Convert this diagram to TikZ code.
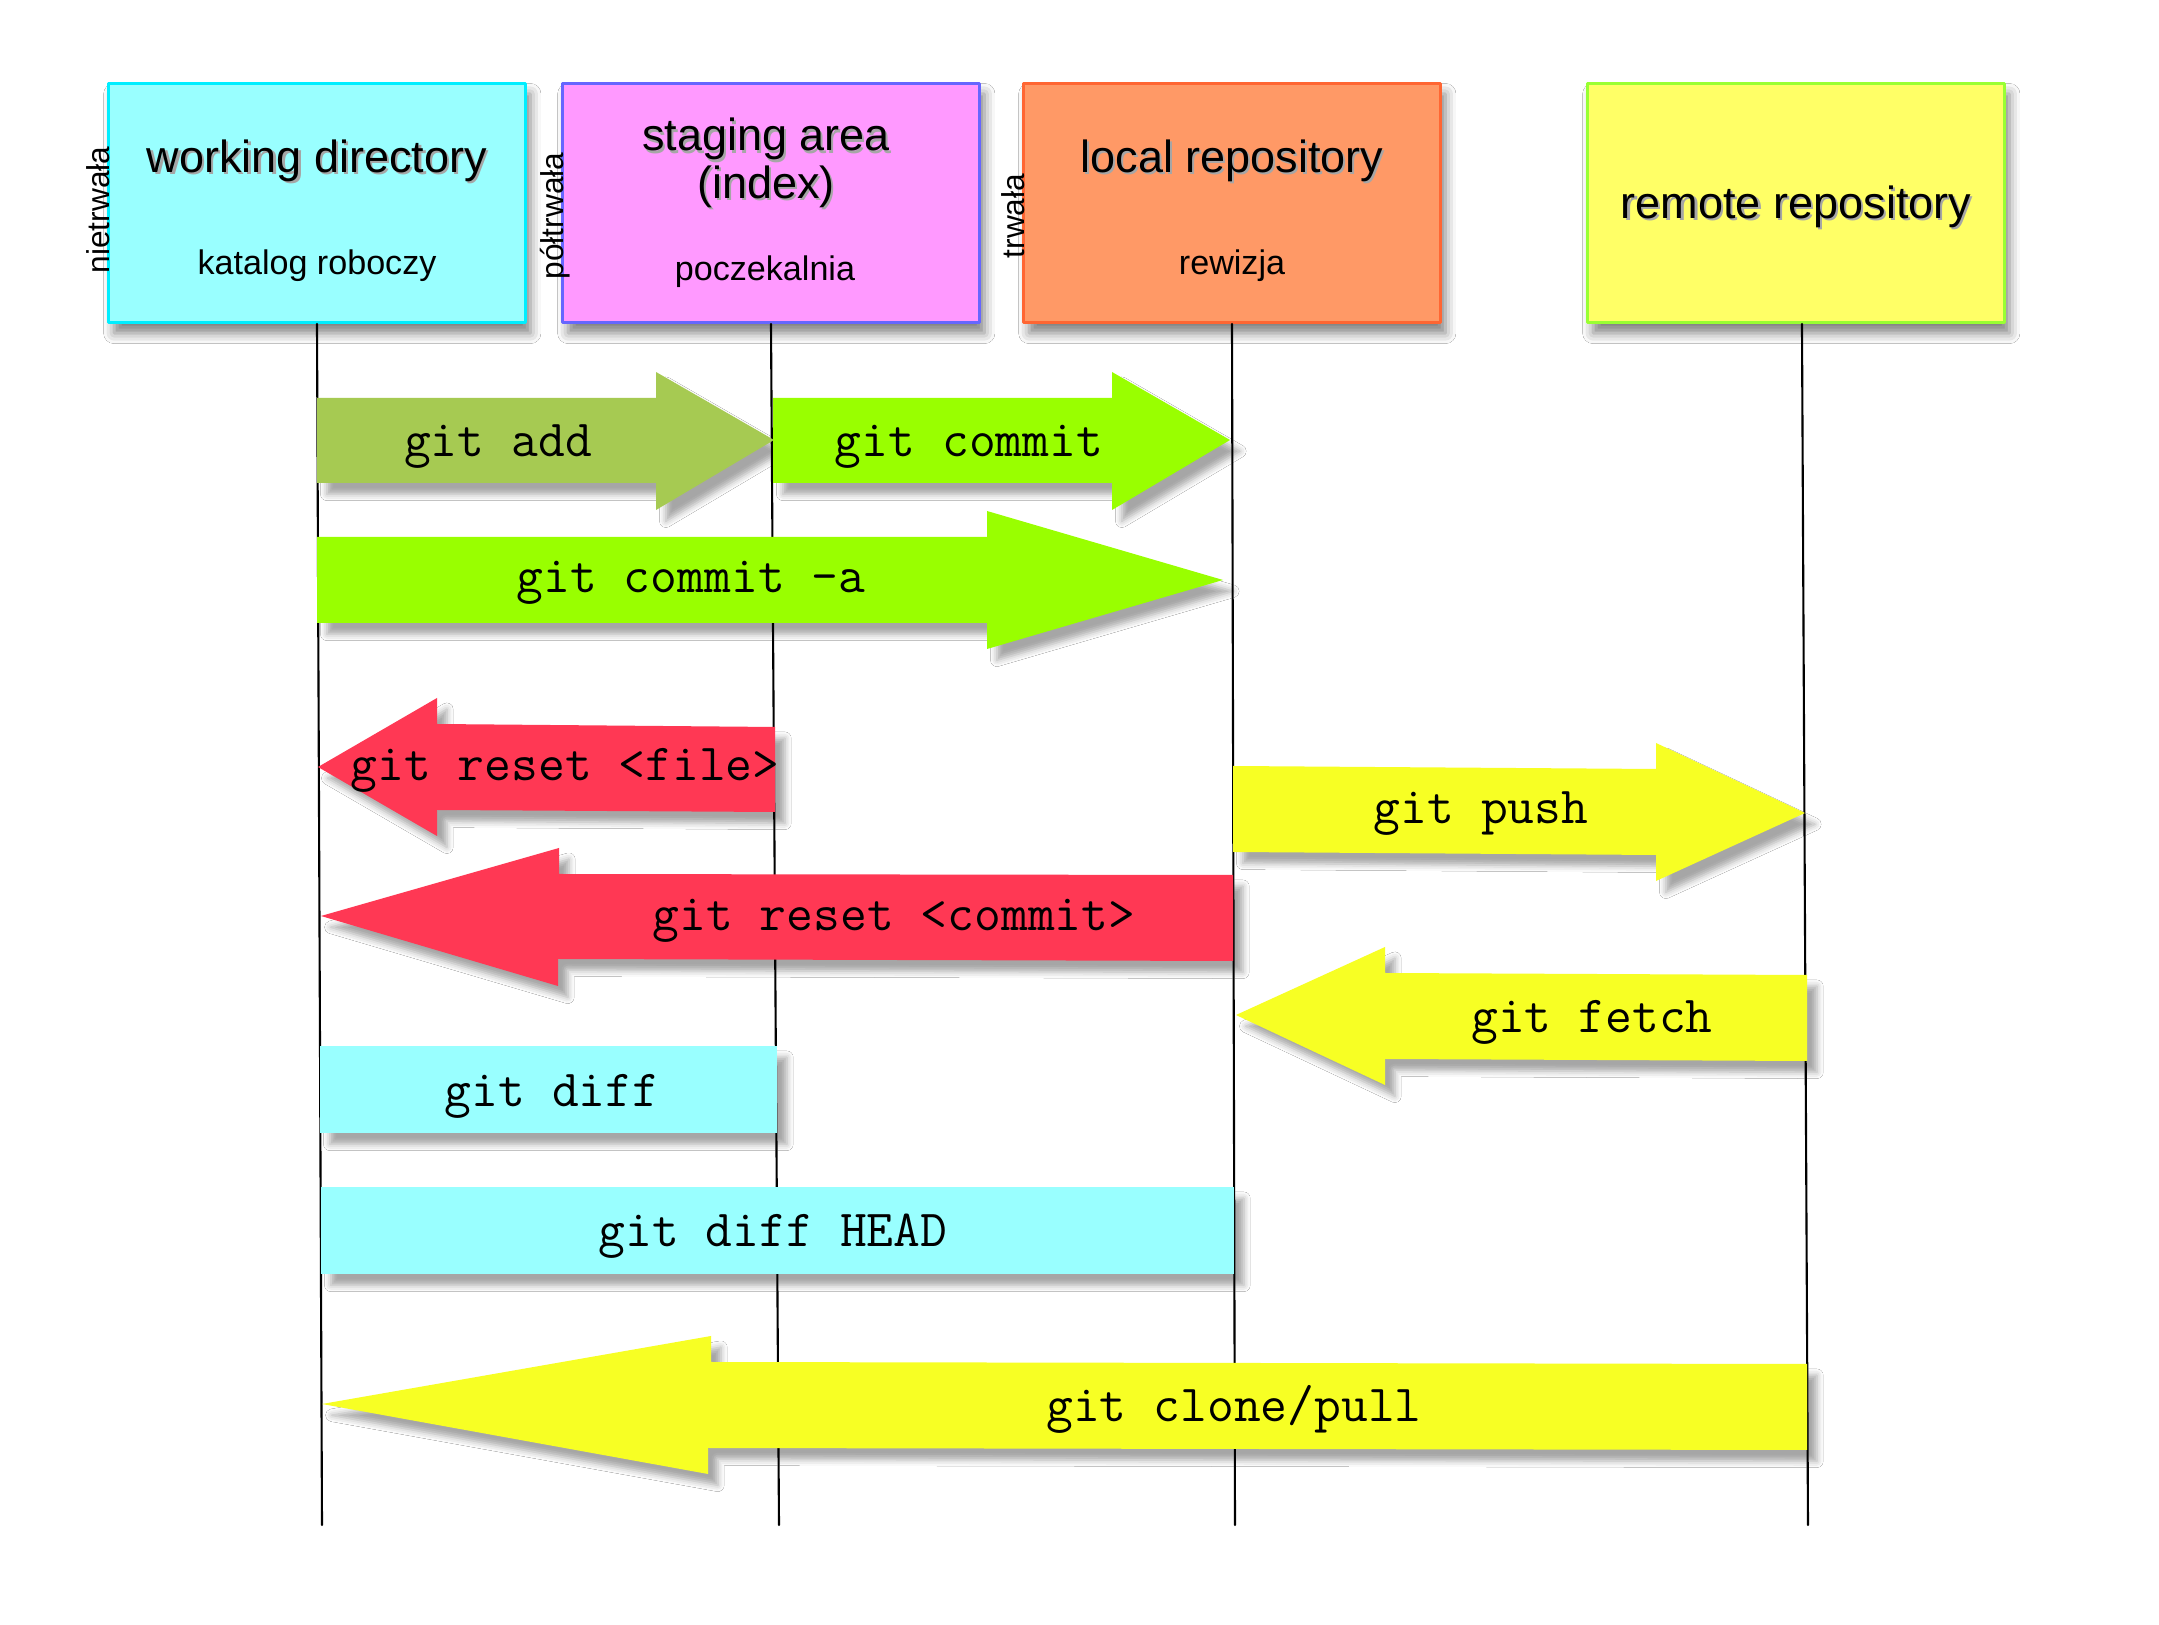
\documentclass[tikz,border=0pt]{standalone}
\usepackage{fontspec}
\setmainfont{Liberation Sans}
\usepackage{tikz}
\usetikzlibrary{calc}
\usetikzlibrary{shadows.blur}

\definecolor{wdfill}{RGB}{153,255,255}
\definecolor{wdline}{RGB}{0,238,255}
\definecolor{ixfill}{RGB}{255,153,255}
\definecolor{ixline}{RGB}{102,102,255}
\definecolor{lrfill}{RGB}{255,153,102}
\definecolor{lrline}{RGB}{255,102,51}
\definecolor{rrfill}{RGB}{255,255,102}
\definecolor{rrline}{RGB}{153,255,51}
\definecolor{addgreen}{RGB}{166,202,82}
\definecolor{commitgreen}{RGB}{153,255,0}
\definecolor{resetred}{RGB}{255,56,84}
\definecolor{remoteyellow}{RGB}{247,255,36}
\definecolor{diffcyan}{RGB}{153,255,255}

\newcommand\softshadow[1]{\makebox[0pt][l]{\hspace{0.6pt}\raisebox{-0.7pt}{\color{black!35}#1}}#1}

\tikzset{
  repo/.style={draw, line width=0.8pt, minimum width=4.16cm, minimum height=2.39cm, inner sep=0pt,
    blur shadow={shadow xshift=1.5pt, shadow yshift=-3pt, shadow blur radius=3pt, shadow opacity=50}},
  title/.style={anchor=base, inner sep=0pt, align=center, font=\fontsize{12.8}{13.4}\selectfont},
  subtitle/.style={anchor=base, inner sep=0pt, font=\fontsize{9.7}{11}\selectfont},
  side/.style={anchor=base, inner sep=0pt, rotate=90, font=\fontsize{9}{10}\selectfont},
  lifeline/.style={line width=0.6pt},
  fat/.style={blur shadow={shadow xshift=2.8pt, shadow yshift=-3.2pt, shadow blur radius=1.8pt, shadow opacity=35}},
  cmd/.style={anchor=base, inner sep=0pt, font=\ttfamily\fontsize{14.8}{16}\selectfont}
}

\begin{document}
\begin{tikzpicture}[line cap=round,line join=round,x=0.01cm,y=-0.01cm]
  \useasboundingbox (0,0) rectangle (2159,1625);
  \fill[white] (0,0) rectangle (2159,1625);

  % the four places
  \node[repo, fill=wdfill, draw=wdline] (wd) at (317,203) {};
  \node[repo, fill=ixfill, draw=ixline] (ix) at (771,203) {};
  \node[repo, fill=lrfill, draw=lrline] (lr) at (1232,203) {};
  \node[repo, fill=rrfill, draw=rrline] (rr) at (1796,203) {};

  \node[title] (wd-title) at ($(wd.north)+(0,90)$) {\softshadow{working directory}};
  \node[subtitle] (wd-sub) at ($(wd.north)+(0,192)$) {katalog roboczy};
  \node[title] (ix-title) at ($(ix.north)+(-5,116)$) {\softshadow{staging area}\\\softshadow{(index)}};
  \node[subtitle] (ix-sub) at ($(ix.north)+(-6,198)$) {poczekalnia};
  \node[title] (lr-title) at ($(lr.north)+(0,90)$) {\softshadow{local repository}};
  \node[subtitle] (lr-sub) at ($(lr.north)+(0,192)$) {rewizja};
  \node[title] (rr-title) at ($(rr.north)+(0,136)$) {\softshadow{remote repository}};

  \node[side] (wd-side) at (110,210) {nietrwała};
  \node[side] (ix-side) at (563,216) {półtrwała};
  \node[side] (lr-side) at (1024,216) {trwała};

  % lifelines
  \coordinate (wd-end) at (322,1525);
  \coordinate (ix-end) at (779,1525);
  \coordinate (lr-end) at (1235,1525);
  \coordinate (rr-end) at (1808,1525);
  \draw[lifeline] (wd.south) -- (wd-end);
  \draw[lifeline] (ix.south) -- (ix-end);
  \draw[lifeline] (lr.south) -- (lr-end);
  \draw[lifeline] ([xshift=1.7pt]rr.south) -- (rr-end);

  % commands
  \fill[fat, addgreen] (317,398) -- (656,398) -- (656,372) -- (774,440) -- (656,510) -- (656,483) -- (317,483) -- cycle;
  \fill[fat, commitgreen] (773,398) -- (1112,398) -- (1112,372) -- (1230,440) -- (1112,510) -- (1112,483) -- (773,483) -- cycle;
  \fill[fat, commitgreen] (317,537) -- (987,537) -- (987,511) -- (1223,580) -- (987,649) -- (987,623) -- (317,623) -- cycle;
  \fill[fat, resetred] (775,727) -- (437,724) -- (437,698) -- (318,767) -- (437,836) -- (437,810) -- (775,812) -- cycle;
  \fill[fat, remoteyellow] (1233,766) -- (1656,769) -- (1656,743) -- (1805,813) -- (1656,881) -- (1656,855) -- (1233,852) -- cycle;
  \fill[fat, resetred] (1233,875) -- (559,874) -- (559,848) -- (321,916) -- (558,986) -- (558,959) -- (1233,961) -- cycle;
  \fill[fat, remoteyellow] (1807,975) -- (1385,973) -- (1385,947) -- (1236,1015) -- (1385,1085) -- (1385,1059) -- (1807,1061) -- cycle;
  \fill[fat, diffcyan] (320,1046) rectangle (777,1133);
  \fill[fat, diffcyan] (321,1187) rectangle (1234,1274);
  \fill[fat, remoteyellow] (1807,1364) -- (711,1362) -- (711,1336) -- (322,1404) -- (708,1474) -- (708,1448) -- (1807,1450) -- cycle;

  \node[cmd] (add) at (498,457) {git add};
  \node[cmd] (commit) at (969,457) {git commit};
  \node[cmd] (commit-a) at (691,593) {git commit -a};
  \node[cmd] (reset-file) at (565,781) {git reset <file>};
  \node[cmd] (push) at (1481,824) {git push};
  \node[cmd] (reset-commit) at (894,931) {git reset <commit>};
  \node[cmd] (fetch) at (1592,1033) {git fetch};
  \node[cmd] (diff) at (552,1107) {git diff};
  \node[cmd] (diff-head) at (773,1247) {git diff HEAD};
  \node[cmd] (clone-pull) at (1234,1422) {git clone/pull};
\end{tikzpicture}
\end{document}
